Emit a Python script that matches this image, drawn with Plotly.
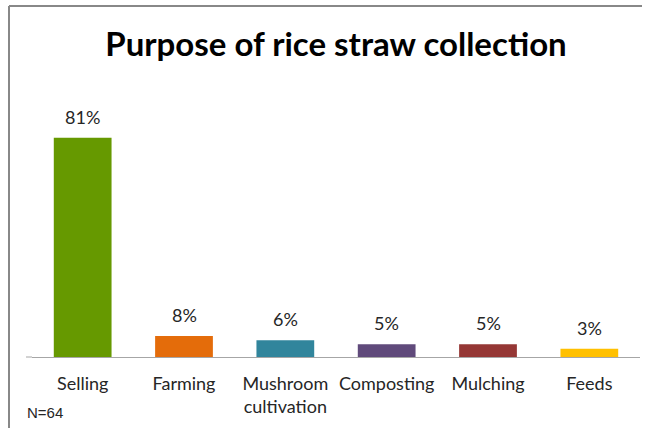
import plotly.graph_objects as go

categories = ["Selling", "Farming", "Mushroom<br>cultivation", "Composting", "Mulching", "Feeds"]
values = [81.25, 7.8, 6.25, 4.7, 4.7, 3.1]
labels = ["81%", "8%", "6%", "5%", "5%", "3%"]
colors = ["#669900", "#E46C0A", "#31859C", "#604A7B", "#953735", "#FFC000"]

W, H = 651, 428
ml, mr, mt, mb = 32, 11, 114, 71
pw, ph = W - ml - mr, H - mt - mb

def px(x):
    return (x - ml) / pw

def py(y):
    return (H - mb - y) / ph

FONT = "Lato, Open Sans, sans-serif"

fig = go.Figure(go.Bar(
    x=categories, y=values,
    marker=dict(color=colors, line=dict(width=0)),
    cliponaxis=False, width=0.57, hoverinfo="x+y",
))

annotations = [
    dict(x=c, y=v, text=t, xref="x", yref="y", showarrow=False, xanchor="center",
         yanchor="bottom", yshift=8, font=dict(family=FONT, size=18, color="#262626"))
    for c, v, t in zip(categories, values, labels)
]
annotations.append(dict(text="N=64", xref="paper", yref="paper", x=px(25), y=py(412),
                        xanchor="left", yanchor="middle", showarrow=False,
                        font=dict(family="Liberation Sans, Arial, sans-serif", size=15, color="#262626")))

fig.update_layout(
    width=W, height=H, margin=dict(l=ml, r=mr, t=mt, b=mb, autoexpand=False),
    paper_bgcolor="white", plot_bgcolor="white", showlegend=False,
    title=dict(text="<b>Purpose of rice straw collection</b>", x=0.5, xref="paper",
               y=1 - 44 / H, yanchor="middle", xanchor="center", automargin=False,
               font=dict(family="Lato, sans-serif", size=33, color="black")),
    xaxis=dict(showline=True, linecolor="#A6A6A6", linewidth=1, ticks="", showgrid=False,
               tickfont=dict(family=FONT, size=18, color="#262626"),
               ticklabelstandoff=10, automargin=False),
    yaxis=dict(range=[0, 90], visible=False, showgrid=False, automargin=False),
    shapes=[
        dict(type="line", xref="paper", yref="paper", x0=px(9), x1=px(642), y0=py(6), y1=py(6),
             line=dict(color="#888888", width=2)),
        dict(type="line", xref="paper", yref="paper", x0=px(9), x1=px(9), y0=py(6), y1=py(428),
             line=dict(color="#888888", width=2)),
        dict(type="line", xref="paper", yref="paper", x0=px(26), x1=px(32), y0=0, y1=0,
             line=dict(color="#A6A6A6", width=1)),
    ],
    annotations=annotations,
)

fig.write_html("out.html")
